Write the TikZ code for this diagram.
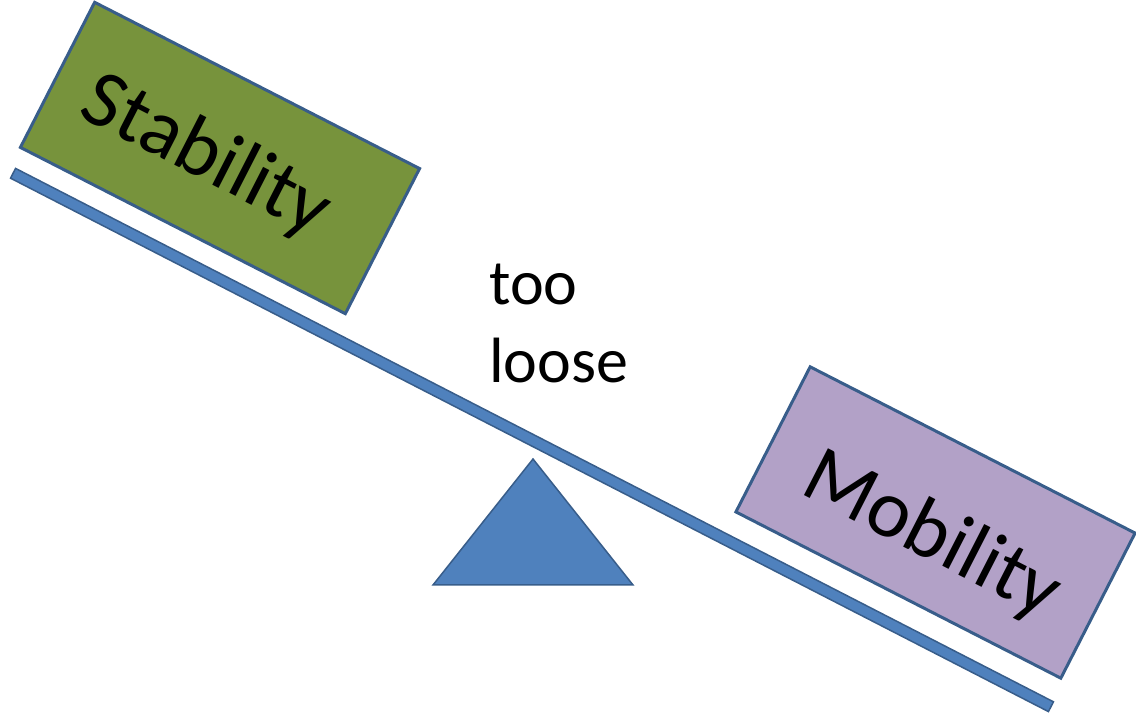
\documentclass[tikz,border=0pt]{standalone}
\usepackage{fontspec}
\setmainfont{Carlito}
\usepackage{tikz}
\usetikzlibrary{shapes,positioning,calc}
\definecolor{boxgreen}{HTML}{77933C}
\definecolor{boxpurple}{HTML}{B2A1C7}
\definecolor{beamblue}{HTML}{4F81BD}
\definecolor{edgeblue}{HTML}{385D8A}

\begin{document}
\begin{tikzpicture}[x=1pt, y=1pt,
  block/.style={rectangle, draw=edgeblue, line width=3pt, fill=#1, inner sep=0pt, minimum width=365pt, minimum height=163pt, rotate=-27.1},
  weight/.style={font=\fontsize{82}{96}\selectfont, rotate=-27.1, inner sep=0pt}]
\useasboundingbox (0,0) rectangle (1136,718);

% Seesaw

\node [rectangle, draw=edgeblue, line width=1.5pt, fill=beamblue, inner sep=0pt, minimum width=1167pt, minimum height=11pt, rotate=-27.2] (beam) at (532,278) {};

\draw [draw=edgeblue, line width=1.5pt, fill=beamblue] (433,133) -- (533,259) -- (633,133) -- cycle;

% Weights

\node [block=boxgreen] (stability) at (220,560) {};
\node [weight] (stabilitytext) at ($(stability.center)+(-14,1)$) {Stability};

\node [block=boxpurple] (mobility) at (935.5,195.5) {};
\node [weight] (mobilitytext) at ($(mobility.center)+(-4,-14)$) {Mobility};

\node [anchor=base west, align=left, inner sep=0pt, font=\fontsize{64}{78}\selectfont] (loose) at (489,335) {too\\loose};
\end{tikzpicture}
\end{document}
